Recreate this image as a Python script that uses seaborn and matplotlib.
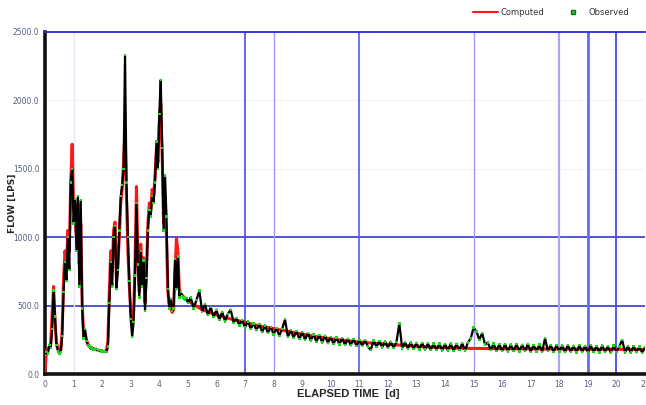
import numpy as np
import pandas as pd
import matplotlib.pyplot as plt
import seaborn as sns
from matplotlib.lines import Line2D

# --- data read off the reference hydrograph ---
# early part, sampled every 0.05 d from 0 to 5 d
t_early = np.round(np.arange(0, 5.001, 0.05), 2)
obs_early = [140, 160, 150, 210, 190, 330, 610, 420, 210, 170,
             150, 160, 280, 600, 820, 680, 1000, 760, 1400, 1500,
             1100, 1280, 900, 1300, 640, 1270, 480, 260, 330, 240,
             210, 200, 185, 190, 180, 175, 185, 170, 175, 165,
             170, 165, 170, 160, 200, 520, 820, 640, 1000, 1080,
             620, 760, 1050, 1300, 1380, 1500, 2330, 1400, 1000, 680,
             400, 270, 380, 720, 1250, 800, 560, 900, 640, 830,
             460, 700, 1050, 1200, 1150, 1300, 1250, 1400, 1700, 1500,
             1900, 2150, 1650, 1050, 1450, 1150, 620, 480, 550, 460,
             480, 840, 620, 860, 560, 600, 570, 560, 540, 555,
             520]
comp_early = [20, 170, 180, 200, 230, 450, 640, 380, 230, 190,
              175, 180, 320, 700, 900, 780, 1050, 900, 1400, 1680,
              1200, 1150, 1000, 1250, 800, 1100, 520, 290, 300, 250,
              220, 205, 195, 190, 185, 180, 178, 175, 172, 170,
              168, 166, 165, 170, 240, 600, 900, 750, 1050, 1110,
              680, 800, 1000, 1250, 1350, 1550, 1800, 1300, 900, 650,
              450, 380, 450, 800, 1370, 850, 600, 950, 700, 850,
              520, 750, 1100, 1250, 1200, 1350, 1300, 1450, 1650, 1550,
              1850, 1980, 1600, 1100, 1300, 1000, 600, 500, 480, 450,
              470, 750, 990, 900, 620, 590, 575, 565, 555, 545,
              535]

# recession, observed every 0.1 d from 5.1 to 21 d
t_late = np.round(np.arange(5.1, 21.001, 0.1), 1)
obs_late = [560, 480, 540, 610, 455, 510, 430, 490, 415, 470,
            395, 455, 385, 440, 470, 375, 410, 355, 395, 340,
            385, 330, 370, 320, 365, 305, 355, 300, 345, 290,
            335, 280, 330, 400, 270, 320, 265, 315, 255, 305,
            250, 300, 245, 290, 235, 285, 230, 280, 225, 270,
            220, 268, 215, 262, 212, 258, 210, 255, 205, 250,
            205, 248, 200, 175, 245, 198, 242, 195, 238, 192,
            236, 190, 234, 370, 188, 232, 185, 230, 183, 228,
            180, 228, 178, 225, 176, 222, 175, 222, 172, 220,
            172, 222, 170, 220, 175, 225, 172, 230, 260, 340,
            310, 250, 300, 215, 230, 175, 222, 170, 218, 168,
            220, 166, 215, 168, 218, 165, 214, 168, 220, 163,
            212, 165, 215, 162, 262, 168, 212, 160, 210, 165,
            208, 160, 212, 163, 206, 158, 210, 162, 205, 158,
            210, 160, 204, 157, 208, 161, 203, 156, 207, 160,
            202, 250, 158, 205, 156, 204, 160, 200, 155, 198]

# computed recession every 0.5 d
t_comp_late = np.round(np.arange(5.5, 21.001, 0.5), 1)
comp_late = [470, 432, 402, 378, 352, 332, 312, 292, 273, 258,
             245, 234, 225, 217, 210, 203, 197, 192, 189, 187,
             186, 185, 184, 184, 183, 183, 182, 182, 181, 181,
             180, 180]

observed = pd.DataFrame({'t': np.concatenate([t_early, t_late]),
                         'q': obs_early + obs_late})
computed = pd.DataFrame({'t': np.concatenate([t_early, t_comp_late]),
                         'q': comp_early + comp_late})

sns.set_style("white")
plt.rcParams['font.family'] = ['DejaVu Sans']

fig = plt.figure(figsize=(6.46, 4.05), dpi=100)
ax = fig.add_axes([0.0697, 0.0765, 0.9288, 0.8445])

# reference lines
ax.axhline(1000, color='#2424d0', lw=1.1, zorder=1)
ax.axhline(500, color='#2424d0', lw=1.1, zorder=1)
ax.axhline(1500, color='#f2f2fa', lw=0.8, zorder=1)
ax.axhline(2000, color='#f2f2fa', lw=0.8, zorder=1)
vlines = [(1, '#e6e6fa', 1.0), (7, '#4a4ae6', 1.2), (8, '#9c9cf2', 1.0),
          (11, '#5a5aea', 1.2), (15, '#9c9cf2', 1.0), (18, '#a8a8f4', 1.6),
          (19, '#6a6aee', 2.0), (20, '#4a4ae6', 1.3)]
for x, c, w in vlines:
    ax.axvline(x, color=c, lw=w, zorder=1)

sns.lineplot(data=computed, x='t', y='q', color='#ff1818', lw=2.2, ax=ax, zorder=3)
sns.lineplot(data=observed, x='t', y='q', color='black', lw=1.6, ax=ax, zorder=4)
sns.scatterplot(data=observed, x='t', y='q', marker='s', s=3, color='#22d022',
                edgecolor='none', ax=ax, zorder=5)

ax.set_xlim(0, 21)
ax.set_ylim(0, 2500)
ax.set_xticks(range(0, 22))
ax.set_yticks([0, 500, 1000, 1500, 2000, 2500])
ax.set_yticklabels(['0.0', '500.0', '1000.0', '1500.0', '2000.0', '2500.0'])
ax.tick_params(axis='both', labelsize=5.5, labelcolor='#556080', length=2,
               color='#888888', pad=2)

for s in ['left', 'bottom']:
    ax.spines[s].set_color('#111111')
    ax.spines[s].set_linewidth(2.6)
ax.spines['top'].set_color('#2a2ad8')
ax.spines['top'].set_linewidth(1.3)
ax.spines['right'].set_visible(False)

ax.set_ylabel('FLOW [LPS]', fontweight='bold', fontsize=6.5)
ax.yaxis.set_label_coords(-0.047, 0.5)
ax.set_xlabel('ELAPSED TIME  [d]', fontweight='bold', fontsize=8,
              family=['Liberation Sans', 'DejaVu Sans'])
ax.xaxis.set_label_coords(0.505, -0.045)

handles = [Line2D([], [], color='#ff1818', lw=1.5),
           Line2D([], [], marker='s', ls='none', markersize=3.5,
                  markerfacecolor='#22d022', markeredgecolor='#226622')]
fig.legend(handles, ['Computed', 'Observed'], loc='upper right',
           bbox_to_anchor=(0.985, 1.0), ncol=2, frameon=False, fontsize=6,
           handlelength=3.0, handletextpad=0.3, columnspacing=2.0,
           labelcolor='#333333')

fig.savefig('out.png', dpi=100)
